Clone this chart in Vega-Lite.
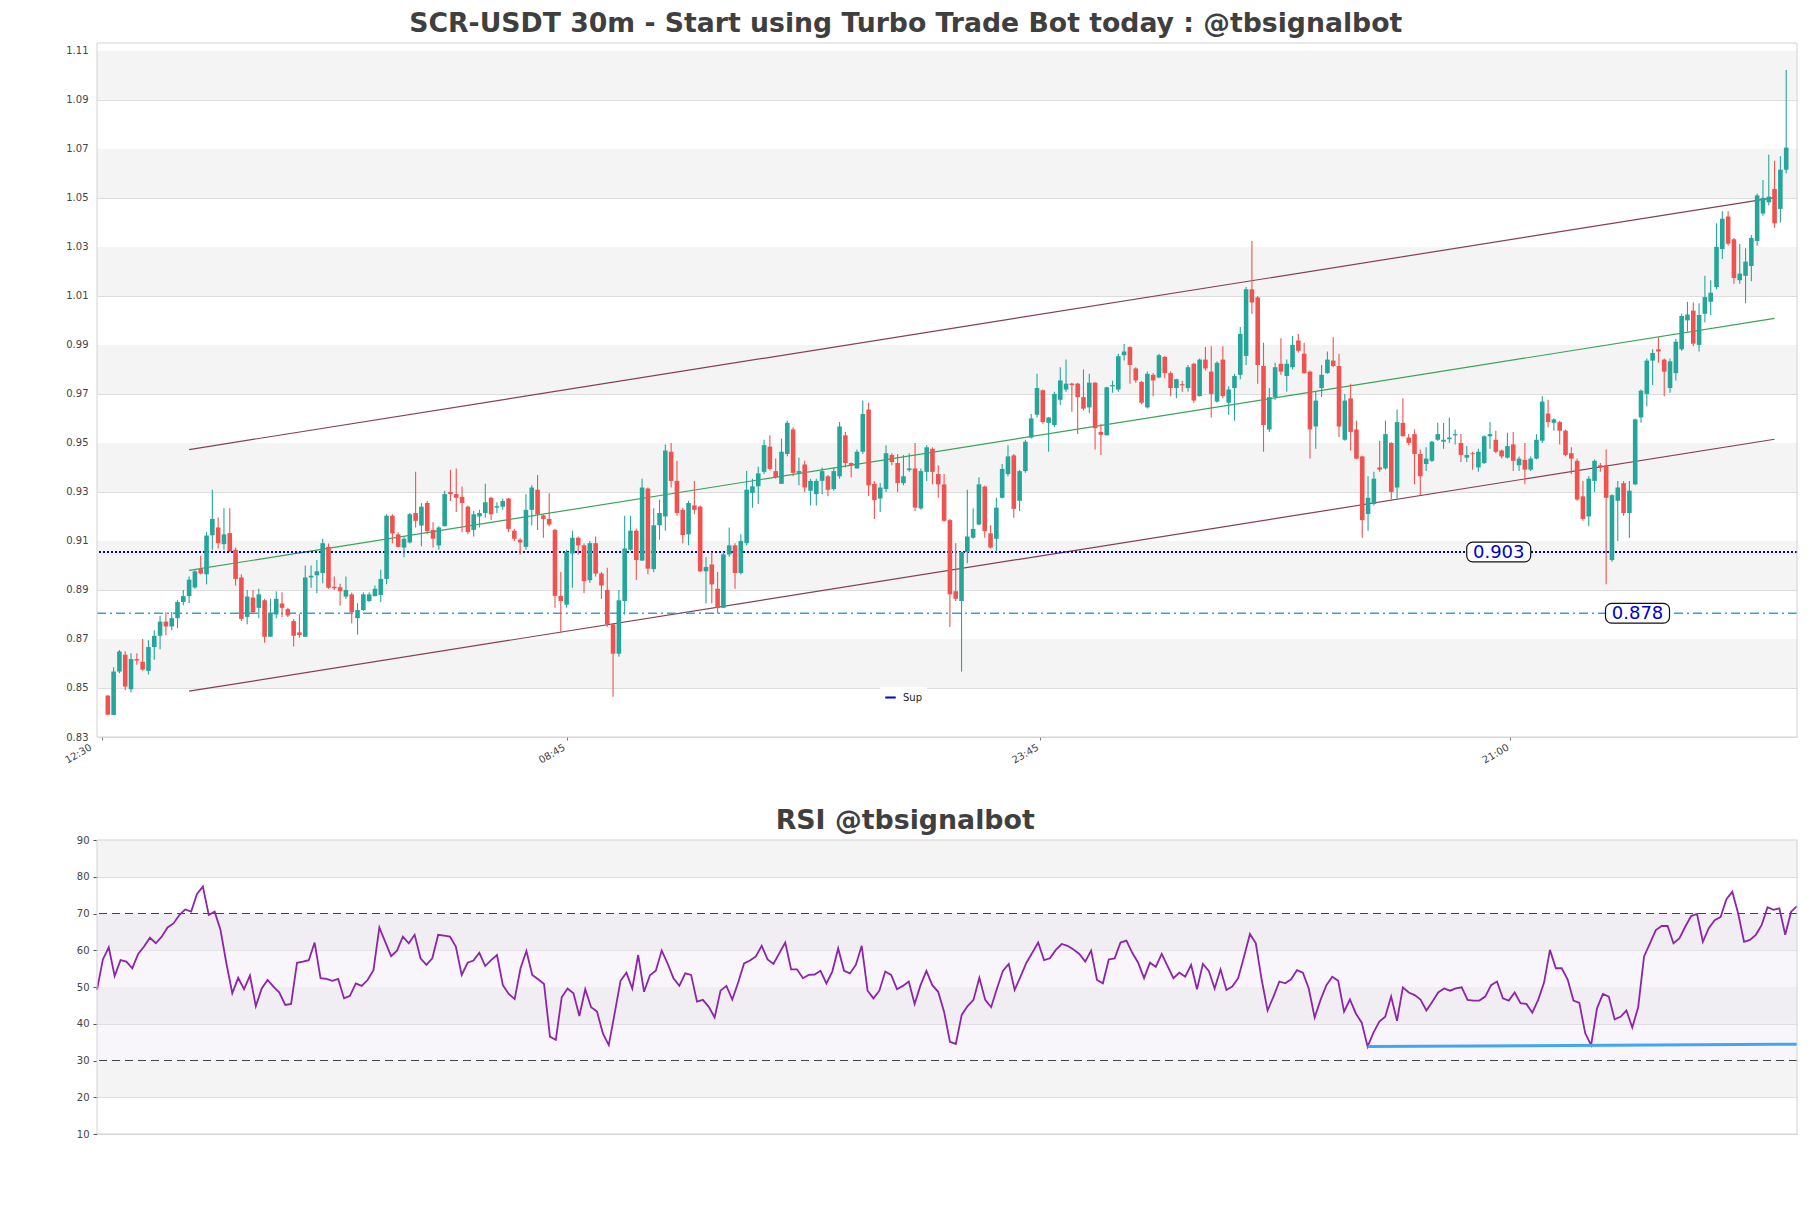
{
"$schema":"https://vega.github.io/schema/vega-lite/v6.json",
"width":1700,"height":1091,
"autosize":{"type":"none"},
"padding":{"left":97,"top":43,"right":14,"bottom":74},
"background":"white",
"config":{"view":{"stroke":null},"font":"DejaVu Sans","axis":{"labelFont":"DejaVu Sans"}},
"datasets":{
"mb":[{"lo":0.85,"hi":0.87},{"lo":0.89,"hi":0.91},{"lo":0.93,"hi":0.95},{"lo":0.97,"hi":0.99},{"lo":1.01,"hi":1.03},{"lo":1.05,"hi":1.07},{"lo":1.09,"hi":1.11}],
"rb":[{"lo":20,"hi":30},{"lo":40,"hi":50},{"lo":60,"hi":70},{"lo":80,"hi":90}],
"ch":[{"k":"edge","g":"upper","i":15,"p":0.9473},{"k":"edge","g":"upper","i":288,"p":1.0501},{"k":"edge","g":"lower","i":15,"p":0.8487},{"k":"edge","g":"lower","i":288,"p":0.9515},{"k":"mid","g":"mid","i":15,"p":0.898},{"k":"mid","g":"mid","i":288,"p":1.0008}],
"lab":[{"i":240.5,"p":0.9055,"t":"0.903"},{"i":264.4,"p":0.8805,"t":"0.878"}],
"rs":[{"i":217,"r":33.8},{"i":290,"r":34.45}],
"k":[
{"i":1,"o":0.8469,"h":0.8470,"l":0.8391,"c":0.8391},
{"i":2,"o":0.8390,"h":0.8585,"l":0.8390,"c":0.8567},
{"i":3,"o":0.8567,"h":0.8655,"l":0.8560,"c":0.8649},
{"i":4,"o":0.8636,"h":0.8650,"l":0.8491,"c":0.8506},
{"i":5,"o":0.8495,"h":0.8642,"l":0.8482,"c":0.8618},
{"i":6,"o":0.8618,"h":0.8642,"l":0.8595,"c":0.8612},
{"i":7,"o":0.8607,"h":0.8700,"l":0.8570,"c":0.8575},
{"i":8,"o":0.8570,"h":0.8695,"l":0.8555,"c":0.8667},
{"i":9,"o":0.8667,"h":0.8736,"l":0.8615,"c":0.8713},
{"i":10,"o":0.8713,"h":0.8795,"l":0.8658,"c":0.8771},
{"i":11,"o":0.8771,"h":0.8809,"l":0.8715,"c":0.8751},
{"i":12,"o":0.8751,"h":0.8810,"l":0.8736,"c":0.8785},
{"i":13,"o":0.8785,"h":0.8860,"l":0.8745,"c":0.8851},
{"i":14,"o":0.8851,"h":0.8900,"l":0.8838,"c":0.8875},
{"i":15,"o":0.8875,"h":0.8955,"l":0.8847,"c":0.8942},
{"i":16,"o":0.8910,"h":0.8985,"l":0.8905,"c":0.8976},
{"i":17,"o":0.8985,"h":0.9040,"l":0.8963,"c":0.8967},
{"i":18,"o":0.8964,"h":0.9136,"l":0.8923,"c":0.9122},
{"i":19,"o":0.9123,"h":0.9309,"l":0.9064,"c":0.9190},
{"i":20,"o":0.9155,"h":0.9196,"l":0.9069,"c":0.9091},
{"i":21,"o":0.9087,"h":0.9233,"l":0.9064,"c":0.9127},
{"i":22,"o":0.9132,"h":0.9233,"l":0.9055,"c":0.9058},
{"i":23,"o":0.9064,"h":0.9073,"l":0.8918,"c":0.8945},
{"i":24,"o":0.8951,"h":0.8964,"l":0.8773,"c":0.8782},
{"i":25,"o":0.8790,"h":0.8900,"l":0.8760,"c":0.8873},
{"i":26,"o":0.8869,"h":0.8900,"l":0.8805,"c":0.8809},
{"i":27,"o":0.8827,"h":0.8905,"l":0.8785,"c":0.8882},
{"i":28,"o":0.8858,"h":0.8864,"l":0.8685,"c":0.8709},
{"i":29,"o":0.8709,"h":0.8864,"l":0.8709,"c":0.8805},
{"i":30,"o":0.8800,"h":0.8895,"l":0.8785,"c":0.8864},
{"i":31,"o":0.8845,"h":0.8891,"l":0.8790,"c":0.8827},
{"i":32,"o":0.8822,"h":0.8827,"l":0.8790,"c":0.8796},
{"i":33,"o":0.8773,"h":0.8782,"l":0.8669,"c":0.8713},
{"i":34,"o":0.8727,"h":0.8803,"l":0.8705,"c":0.8716},
{"i":35,"o":0.8709,"h":0.9000,"l":0.8709,"c":0.8951},
{"i":36,"o":0.8951,"h":0.9000,"l":0.8909,"c":0.8958},
{"i":37,"o":0.8960,"h":0.9022,"l":0.8887,"c":0.8976},
{"i":38,"o":0.8969,"h":0.9109,"l":0.8927,"c":0.9091},
{"i":39,"o":0.9076,"h":0.9090,"l":0.8905,"c":0.8909},
{"i":40,"o":0.8913,"h":0.8955,"l":0.8900,"c":0.8907},
{"i":41,"o":0.8911,"h":0.8925,"l":0.8836,"c":0.8895},
{"i":42,"o":0.8873,"h":0.8955,"l":0.8864,"c":0.8900},
{"i":43,"o":0.8882,"h":0.8890,"l":0.8764,"c":0.8809},
{"i":44,"o":0.8785,"h":0.8846,"l":0.8718,"c":0.8818},
{"i":45,"o":0.8818,"h":0.8891,"l":0.8815,"c":0.8882},
{"i":46,"o":0.8855,"h":0.8890,"l":0.8850,"c":0.8882},
{"i":47,"o":0.8875,"h":0.8918,"l":0.8873,"c":0.8905},
{"i":48,"o":0.8880,"h":0.8982,"l":0.8851,"c":0.8945},
{"i":49,"o":0.8945,"h":0.9209,"l":0.8923,"c":0.9203},
{"i":50,"o":0.9203,"h":0.9209,"l":0.9091,"c":0.9131},
{"i":51,"o":0.9127,"h":0.9136,"l":0.9073,"c":0.9076},
{"i":52,"o":0.9073,"h":0.9118,"l":0.9033,"c":0.9109},
{"i":53,"o":0.9094,"h":0.9214,"l":0.9090,"c":0.9209},
{"i":54,"o":0.9214,"h":0.9382,"l":0.9155,"c":0.9182},
{"i":55,"o":0.9163,"h":0.9255,"l":0.9078,"c":0.9240},
{"i":56,"o":0.9255,"h":0.9264,"l":0.9127,"c":0.9140},
{"i":57,"o":0.9145,"h":0.9176,"l":0.9073,"c":0.9109},
{"i":58,"o":0.9082,"h":0.9160,"l":0.9064,"c":0.9155},
{"i":59,"o":0.9160,"h":0.9305,"l":0.9160,"c":0.9291},
{"i":60,"o":0.9300,"h":0.9390,"l":0.9263,"c":0.9291},
{"i":61,"o":0.9291,"h":0.9396,"l":0.9218,"c":0.9276},
{"i":62,"o":0.9280,"h":0.9322,"l":0.9136,"c":0.9255},
{"i":63,"o":0.9240,"h":0.9245,"l":0.9127,"c":0.9136},
{"i":64,"o":0.9145,"h":0.9222,"l":0.9118,"c":0.9209},
{"i":65,"o":0.9200,"h":0.9227,"l":0.9155,"c":0.9214},
{"i":66,"o":0.9214,"h":0.9333,"l":0.9196,"c":0.9258},
{"i":67,"o":0.9276,"h":0.9280,"l":0.9185,"c":0.9209},
{"i":68,"o":0.9236,"h":0.9258,"l":0.9214,"c":0.9242},
{"i":69,"o":0.9240,"h":0.9273,"l":0.9227,"c":0.9263},
{"i":70,"o":0.9273,"h":0.9276,"l":0.9136,"c":0.9149},
{"i":71,"o":0.9142,"h":0.9150,"l":0.9100,"c":0.9109},
{"i":72,"o":0.9105,"h":0.9112,"l":0.9045,"c":0.9094},
{"i":73,"o":0.9076,"h":0.9291,"l":0.9064,"c":0.9227},
{"i":74,"o":0.9227,"h":0.9327,"l":0.9164,"c":0.9318},
{"i":75,"o":0.9309,"h":0.9369,"l":0.9145,"c":0.9209},
{"i":76,"o":0.9204,"h":0.9208,"l":0.9113,"c":0.9190},
{"i":77,"o":0.9190,"h":0.9295,"l":0.9160,"c":0.9167},
{"i":78,"o":0.9145,"h":0.9150,"l":0.8827,"c":0.8876},
{"i":79,"o":0.8876,"h":0.8973,"l":0.8727,"c":0.8855},
{"i":80,"o":0.8840,"h":0.9064,"l":0.8827,"c":0.9055},
{"i":81,"o":0.9049,"h":0.9142,"l":0.8909,"c":0.9113},
{"i":82,"o":0.9113,"h":0.9118,"l":0.9045,"c":0.9082},
{"i":83,"o":0.9082,"h":0.9090,"l":0.8887,"c":0.8936},
{"i":84,"o":0.8940,"h":0.9100,"l":0.8929,"c":0.9091},
{"i":85,"o":0.9091,"h":0.9118,"l":0.8955,"c":0.8967},
{"i":86,"o":0.8967,"h":0.8973,"l":0.8864,"c":0.8918},
{"i":87,"o":0.8900,"h":0.8991,"l":0.8750,"c":0.8760},
{"i":88,"o":0.8760,"h":0.8764,"l":0.8464,"c":0.8640},
{"i":89,"o":0.8640,"h":0.8900,"l":0.8627,"c":0.8858},
{"i":90,"o":0.8855,"h":0.9203,"l":0.8800,"c":0.9069},
{"i":91,"o":0.9064,"h":0.9203,"l":0.9060,"c":0.9142},
{"i":92,"o":0.9142,"h":0.9150,"l":0.8941,"c":0.9022},
{"i":93,"o":0.9020,"h":0.9354,"l":0.9018,"c":0.9318},
{"i":94,"o":0.9314,"h":0.9318,"l":0.8964,"c":0.8987},
{"i":95,"o":0.8985,"h":0.9233,"l":0.8973,"c":0.9164},
{"i":96,"o":0.9164,"h":0.9269,"l":0.9105,"c":0.9214},
{"i":97,"o":0.9200,"h":0.9494,"l":0.9142,"c":0.9469},
{"i":98,"o":0.9464,"h":0.9500,"l":0.9318,"c":0.9345},
{"i":99,"o":0.9345,"h":0.9427,"l":0.9203,"c":0.9214},
{"i":100,"o":0.9227,"h":0.9236,"l":0.9091,"c":0.9124},
{"i":101,"o":0.9127,"h":0.9264,"l":0.9082,"c":0.9255},
{"i":102,"o":0.9245,"h":0.9345,"l":0.9209,"c":0.9227},
{"i":103,"o":0.9240,"h":0.9245,"l":0.8973,"c":0.8976},
{"i":104,"o":0.8976,"h":0.9033,"l":0.8845,"c":0.8994},
{"i":105,"o":0.9004,"h":0.9055,"l":0.8845,"c":0.8923},
{"i":106,"o":0.8905,"h":0.8973,"l":0.8804,"c":0.8827},
{"i":107,"o":0.8827,"h":0.9055,"l":0.8827,"c":0.9045},
{"i":108,"o":0.9045,"h":0.9155,"l":0.9036,"c":0.9082},
{"i":109,"o":0.9082,"h":0.9091,"l":0.8905,"c":0.8969},
{"i":110,"o":0.8969,"h":0.9127,"l":0.8964,"c":0.9100},
{"i":111,"o":0.9091,"h":0.9385,"l":0.9082,"c":0.9309},
{"i":112,"o":0.9296,"h":0.9354,"l":0.9236,"c":0.9323},
{"i":113,"o":0.9323,"h":0.9403,"l":0.9251,"c":0.9376},
{"i":114,"o":0.9382,"h":0.9513,"l":0.9373,"c":0.9491},
{"i":115,"o":0.9485,"h":0.9531,"l":0.9387,"c":0.9394},
{"i":116,"o":0.9385,"h":0.9436,"l":0.9354,"c":0.9360},
{"i":117,"o":0.9333,"h":0.9518,"l":0.9333,"c":0.9464},
{"i":118,"o":0.9455,"h":0.9591,"l":0.9446,"c":0.9582},
{"i":119,"o":0.9555,"h":0.9564,"l":0.9364,"c":0.9378},
{"i":120,"o":0.9378,"h":0.9440,"l":0.9327,"c":0.9385},
{"i":121,"o":0.9412,"h":0.9427,"l":0.9300,"c":0.9318},
{"i":122,"o":0.9305,"h":0.9354,"l":0.9245,"c":0.9345},
{"i":123,"o":0.9291,"h":0.9354,"l":0.9245,"c":0.9345},
{"i":124,"o":0.9345,"h":0.9400,"l":0.9291,"c":0.9385},
{"i":125,"o":0.9364,"h":0.9369,"l":0.9282,"c":0.9309},
{"i":126,"o":0.9312,"h":0.9400,"l":0.9305,"c":0.9385},
{"i":127,"o":0.9364,"h":0.9585,"l":0.9354,"c":0.9567},
{"i":128,"o":0.9531,"h":0.9545,"l":0.9400,"c":0.9418},
{"i":129,"o":0.9418,"h":0.9420,"l":0.9360,"c":0.9409},
{"i":130,"o":0.9396,"h":0.9473,"l":0.9396,"c":0.9464},
{"i":131,"o":0.9464,"h":0.9673,"l":0.9455,"c":0.9618},
{"i":132,"o":0.9636,"h":0.9664,"l":0.9282,"c":0.9327},
{"i":133,"o":0.9333,"h":0.9345,"l":0.9190,"c":0.9267},
{"i":134,"o":0.9273,"h":0.9336,"l":0.9218,"c":0.9318},
{"i":135,"o":0.9312,"h":0.9491,"l":0.9300,"c":0.9458},
{"i":136,"o":0.9451,"h":0.9458,"l":0.9409,"c":0.9422},
{"i":137,"o":0.9418,"h":0.9455,"l":0.9300,"c":0.9336},
{"i":138,"o":0.9336,"h":0.9451,"l":0.9327,"c":0.9364},
{"i":139,"o":0.9389,"h":0.9458,"l":0.9382,"c":0.9396},
{"i":140,"o":0.9396,"h":0.9500,"l":0.9222,"c":0.9236},
{"i":141,"o":0.9233,"h":0.9396,"l":0.9227,"c":0.9385},
{"i":142,"o":0.9382,"h":0.9491,"l":0.9345,"c":0.9482},
{"i":143,"o":0.9476,"h":0.9482,"l":0.9331,"c":0.9382},
{"i":144,"o":0.9373,"h":0.9409,"l":0.9276,"c":0.9331},
{"i":145,"o":0.9331,"h":0.9373,"l":0.9178,"c":0.9182},
{"i":146,"o":0.9185,"h":0.9190,"l":0.8749,"c":0.8882},
{"i":147,"o":0.8895,"h":0.9091,"l":0.8855,"c":0.8864},
{"i":148,"o":0.8855,"h":0.9055,"l":0.8567,"c":0.9055},
{"i":149,"o":0.9055,"h":0.9309,"l":0.9009,"c":0.9118},
{"i":150,"o":0.9113,"h":0.9233,"l":0.9109,"c":0.9149},
{"i":151,"o":0.9167,"h":0.9360,"l":0.9164,"c":0.9331},
{"i":152,"o":0.9322,"h":0.9325,"l":0.9113,"c":0.9140},
{"i":153,"o":0.9131,"h":0.9164,"l":0.9069,"c":0.9073},
{"i":154,"o":0.9109,"h":0.9276,"l":0.9055,"c":0.9236},
{"i":155,"o":0.9276,"h":0.9414,"l":0.9273,"c":0.9394},
{"i":156,"o":0.9373,"h":0.9491,"l":0.9364,"c":0.9445},
{"i":157,"o":0.9449,"h":0.9455,"l":0.9195,"c":0.9231},
{"i":158,"o":0.9264,"h":0.9391,"l":0.9222,"c":0.9385},
{"i":159,"o":0.9385,"h":0.9513,"l":0.9378,"c":0.9505},
{"i":160,"o":0.9522,"h":0.9618,"l":0.9518,"c":0.9600},
{"i":161,"o":0.9615,"h":0.9782,"l":0.9604,"c":0.9724},
{"i":162,"o":0.9715,"h":0.9718,"l":0.9578,"c":0.9585},
{"i":163,"o":0.9582,"h":0.9606,"l":0.9464,"c":0.9604},
{"i":164,"o":0.9573,"h":0.9709,"l":0.9564,"c":0.9700},
{"i":165,"o":0.9676,"h":0.9809,"l":0.9655,"c":0.9755},
{"i":166,"o":0.9718,"h":0.9840,"l":0.9709,"c":0.9742},
{"i":167,"o":0.9742,"h":0.9746,"l":0.9627,"c":0.9736},
{"i":168,"o":0.9742,"h":0.9746,"l":0.9536,"c":0.9687},
{"i":169,"o":0.9687,"h":0.9800,"l":0.9633,"c":0.9640},
{"i":170,"o":0.9645,"h":0.9782,"l":0.9622,"c":0.9746},
{"i":171,"o":0.9746,"h":0.9748,"l":0.9473,"c":0.9560},
{"i":172,"o":0.9545,"h":0.9578,"l":0.9451,"c":0.9533},
{"i":173,"o":0.9531,"h":0.9729,"l":0.9531,"c":0.9727},
{"i":174,"o":0.9731,"h":0.9754,"l":0.9705,"c":0.9736},
{"i":175,"o":0.9718,"h":0.9864,"l":0.9709,"c":0.9854},
{"i":176,"o":0.9858,"h":0.9904,"l":0.9836,"c":0.9873},
{"i":177,"o":0.9891,"h":0.9895,"l":0.9742,"c":0.9818},
{"i":178,"o":0.9804,"h":0.9809,"l":0.9746,"c":0.9755},
{"i":179,"o":0.9749,"h":0.9754,"l":0.9658,"c":0.9664},
{"i":180,"o":0.9645,"h":0.9791,"l":0.9640,"c":0.9782},
{"i":181,"o":0.9778,"h":0.9785,"l":0.9691,"c":0.9755},
{"i":182,"o":0.9767,"h":0.9864,"l":0.9764,"c":0.9858},
{"i":183,"o":0.9851,"h":0.9855,"l":0.9764,"c":0.9785},
{"i":184,"o":0.9785,"h":0.9791,"l":0.9691,"c":0.9724},
{"i":185,"o":0.9724,"h":0.9762,"l":0.9682,"c":0.9760},
{"i":186,"o":0.9740,"h":0.9754,"l":0.9709,"c":0.9735},
{"i":187,"o":0.9724,"h":0.9818,"l":0.9709,"c":0.9809},
{"i":188,"o":0.9823,"h":0.9827,"l":0.9664,"c":0.9673},
{"i":189,"o":0.9691,"h":0.9845,"l":0.9689,"c":0.9840},
{"i":190,"o":0.9840,"h":0.9891,"l":0.9796,"c":0.9804},
{"i":191,"o":0.9791,"h":0.9895,"l":0.9604,"c":0.9700},
{"i":192,"o":0.9669,"h":0.9833,"l":0.9664,"c":0.9827},
{"i":193,"o":0.9840,"h":0.9895,"l":0.9682,"c":0.9691},
{"i":194,"o":0.9664,"h":0.9731,"l":0.9615,"c":0.9718},
{"i":195,"o":0.9724,"h":0.9782,"l":0.9591,"c":0.9773},
{"i":196,"o":0.9778,"h":0.9973,"l":0.9760,"c":0.9945},
{"i":197,"o":0.9855,"h":1.0136,"l":0.9818,"c":1.0127},
{"i":198,"o":1.0127,"h":1.0324,"l":1.0027,"c":1.0073},
{"i":199,"o":1.0094,"h":1.0100,"l":0.9742,"c":0.9818},
{"i":200,"o":0.9814,"h":0.9909,"l":0.9464,"c":0.9573},
{"i":201,"o":0.9555,"h":0.9724,"l":0.9545,"c":0.9687},
{"i":202,"o":0.9687,"h":0.9827,"l":0.9676,"c":0.9809},
{"i":203,"o":0.9823,"h":0.9927,"l":0.9778,"c":0.9791},
{"i":204,"o":0.9773,"h":0.9840,"l":0.9709,"c":0.9823},
{"i":205,"o":0.9809,"h":0.9936,"l":0.9800,"c":0.9900},
{"i":206,"o":0.9918,"h":0.9945,"l":0.9869,"c":0.9876},
{"i":207,"o":0.9864,"h":0.9909,"l":0.9782,"c":0.9785},
{"i":208,"o":0.9791,"h":0.9796,"l":0.9436,"c":0.9555},
{"i":209,"o":0.9567,"h":0.9709,"l":0.9476,"c":0.9673},
{"i":210,"o":0.9724,"h":0.9818,"l":0.9687,"c":0.9778},
{"i":211,"o":0.9785,"h":0.9873,"l":0.9782,"c":0.9840},
{"i":212,"o":0.9836,"h":0.9931,"l":0.9809,"c":0.9814},
{"i":213,"o":0.9814,"h":0.9864,"l":0.9524,"c":0.9567},
{"i":214,"o":0.9513,"h":0.9700,"l":0.9509,"c":0.9673},
{"i":215,"o":0.9682,"h":0.9742,"l":0.9469,"c":0.9545},
{"i":216,"o":0.9555,"h":0.9591,"l":0.9433,"c":0.9436},
{"i":217,"o":0.9445,"h":0.9448,"l":0.9113,"c":0.9185},
{"i":218,"o":0.9210,"h":0.9364,"l":0.9142,"c":0.9276},
{"i":219,"o":0.9251,"h":0.9382,"l":0.9245,"c":0.9354},
{"i":220,"o":0.9400,"h":0.9509,"l":0.9382,"c":0.9391},
{"i":221,"o":0.9396,"h":0.9591,"l":0.9391,"c":0.9536},
{"i":222,"o":0.9500,"h":0.9503,"l":0.9269,"c":0.9300},
{"i":223,"o":0.9318,"h":0.9636,"l":0.9273,"c":0.9585},
{"i":224,"o":0.9582,"h":0.9682,"l":0.9527,"c":0.9527},
{"i":225,"o":0.9522,"h":0.9536,"l":0.9491,"c":0.9500},
{"i":226,"o":0.9536,"h":0.9555,"l":0.9331,"c":0.9455},
{"i":227,"o":0.9455,"h":0.9473,"l":0.9287,"c":0.9364},
{"i":228,"o":0.9414,"h":0.9482,"l":0.9385,"c":0.9436},
{"i":229,"o":0.9427,"h":0.9509,"l":0.9422,"c":0.9505},
{"i":230,"o":0.9513,"h":0.9582,"l":0.9509,"c":0.9536},
{"i":231,"o":0.9505,"h":0.9582,"l":0.9476,"c":0.9513},
{"i":232,"o":0.9515,"h":0.9604,"l":0.9500,"c":0.9522},
{"i":233,"o":0.9531,"h":0.9555,"l":0.9494,"c":0.9536},
{"i":234,"o":0.9500,"h":0.9536,"l":0.9422,"c":0.9451},
{"i":235,"o":0.9440,"h":0.9487,"l":0.9422,"c":0.9451},
{"i":236,"o":0.9458,"h":0.9464,"l":0.9391,"c":0.9454},
{"i":237,"o":0.9400,"h":0.9476,"l":0.9382,"c":0.9464},
{"i":238,"o":0.9418,"h":0.9531,"l":0.9414,"c":0.9527},
{"i":239,"o":0.9527,"h":0.9585,"l":0.9476,"c":0.9536},
{"i":240,"o":0.9513,"h":0.9550,"l":0.9458,"c":0.9464},
{"i":241,"o":0.9469,"h":0.9473,"l":0.9436,"c":0.9445},
{"i":242,"o":0.9440,"h":0.9542,"l":0.9436,"c":0.9487},
{"i":243,"o":0.9494,"h":0.9545,"l":0.9385,"c":0.9427},
{"i":244,"o":0.9409,"h":0.9445,"l":0.9385,"c":0.9436},
{"i":245,"o":0.9431,"h":0.9500,"l":0.9331,"c":0.9391},
{"i":246,"o":0.9391,"h":0.9445,"l":0.9385,"c":0.9436},
{"i":247,"o":0.9436,"h":0.9536,"l":0.9433,"c":0.9513},
{"i":248,"o":0.9509,"h":0.9691,"l":0.9500,"c":0.9669},
{"i":249,"o":0.9620,"h":0.9676,"l":0.9564,"c":0.9585},
{"i":250,"o":0.9582,"h":0.9600,"l":0.9550,"c":0.9596},
{"i":251,"o":0.9585,"h":0.9591,"l":0.9494,"c":0.9550},
{"i":252,"o":0.9550,"h":0.9555,"l":0.9445,"c":0.9451},
{"i":253,"o":0.9458,"h":0.9482,"l":0.9373,"c":0.9436},
{"i":254,"o":0.9427,"h":0.9436,"l":0.9264,"c":0.9269},
{"i":255,"o":0.9282,"h":0.9345,"l":0.9182,"c":0.9190},
{"i":256,"o":0.9200,"h":0.9364,"l":0.9160,"c":0.9354},
{"i":257,"o":0.9345,"h":0.9433,"l":0.9300,"c":0.9427},
{"i":258,"o":0.9409,"h":0.9418,"l":0.9382,"c":0.9400},
{"i":259,"o":0.9409,"h":0.9473,"l":0.8923,"c":0.9276},
{"i":260,"o":0.9022,"h":0.9291,"l":0.9015,"c":0.9287},
{"i":261,"o":0.9264,"h":0.9345,"l":0.9100,"c":0.9318},
{"i":262,"o":0.9336,"h":0.9345,"l":0.9203,"c":0.9214},
{"i":263,"o":0.9214,"h":0.9345,"l":0.9113,"c":0.9305},
{"i":264,"o":0.9331,"h":0.9600,"l":0.9327,"c":0.9596},
{"i":265,"o":0.9604,"h":0.9718,"l":0.9582,"c":0.9713},
{"i":266,"o":0.9700,"h":0.9845,"l":0.9650,"c":0.9836},
{"i":267,"o":0.9836,"h":0.9882,"l":0.9736,"c":0.9867},
{"i":268,"o":0.9882,"h":0.9931,"l":0.9827,"c":0.9873},
{"i":269,"o":0.9840,"h":0.9845,"l":0.9691,"c":0.9791},
{"i":270,"o":0.9724,"h":0.9845,"l":0.9705,"c":0.9833},
{"i":271,"o":0.9785,"h":0.9924,"l":0.9755,"c":0.9913},
{"i":272,"o":0.9882,"h":1.0027,"l":0.9876,"c":1.0018},
{"i":273,"o":1.0000,"h":1.0076,"l":0.9955,"c":1.0024},
{"i":274,"o":1.0040,"h":1.0073,"l":0.9895,"c":0.9905},
{"i":275,"o":0.9900,"h":1.0070,"l":0.9873,"c":1.0022},
{"i":276,"o":1.0027,"h":1.0182,"l":0.9991,"c":1.0095},
{"i":277,"o":1.0076,"h":1.0164,"l":1.0022,"c":1.0113},
{"i":278,"o":1.0136,"h":1.0396,"l":1.0127,"c":1.0300},
{"i":279,"o":1.0291,"h":1.0445,"l":1.0251,"c":1.0415},
{"i":280,"o":1.0424,"h":1.0445,"l":1.0305,"c":1.0313},
{"i":281,"o":1.0331,"h":1.0336,"l":1.0150,"c":1.0173},
{"i":282,"o":1.0164,"h":1.0313,"l":1.0150,"c":1.0191},
{"i":283,"o":1.0182,"h":1.0294,"l":1.0070,"c":1.0240},
{"i":284,"o":1.0222,"h":1.0349,"l":1.0160,"c":1.0336},
{"i":285,"o":1.0324,"h":1.0518,"l":1.0305,"c":1.0510},
{"i":286,"o":1.0436,"h":1.0573,"l":1.0427,"c":1.0500},
{"i":287,"o":1.0482,"h":1.0676,"l":1.0469,"c":1.0505},
{"i":288,"o":1.0536,"h":1.0651,"l":1.0378,"c":1.0396},
{"i":289,"o":1.0455,"h":1.0670,"l":1.0400,"c":1.0615},
{"i":290,"o":1.0615,"h":1.1022,"l":1.0600,"c":1.0705}
],
"r":[
{"i":1,"r":49.2},{"i":2,"r":57.5},{"i":3,"r":60.8},{"i":4,"r":53},{"i":5,"r":57.3},{"i":6,"r":56.9},{"i":7,"r":55.1},{"i":8,"r":59},{"i":9,"r":61},{"i":10,"r":63.4},
{"i":11,"r":61.9},{"i":12,"r":63.7},{"i":13,"r":66.2},{"i":14,"r":67.3},{"i":15,"r":69.6},{"i":16,"r":71.1},{"i":17,"r":70.5},{"i":18,"r":75.3},{"i":19,"r":77.3},{"i":20,"r":69.6},
{"i":21,"r":70.5},{"i":22,"r":65.5},{"i":23,"r":56.4},{"i":24,"r":48.3},{"i":25,"r":52.5},{"i":26,"r":49.4},{"i":27,"r":53.1},{"i":28,"r":44.8},{"i":29,"r":49.6},{"i":30,"r":51.9},
{"i":31,"r":50.1},{"i":32,"r":48.5},{"i":33,"r":45.1},{"i":34,"r":45.4},{"i":35,"r":56.6},{"i":36,"r":56.9},{"i":37,"r":57.3},{"i":38,"r":62.1},{"i":39,"r":52.4},{"i":40,"r":52.2},
{"i":41,"r":51.7},{"i":42,"r":52.2},{"i":43,"r":46.9},{"i":44,"r":47.6},{"i":45,"r":51},{"i":46,"r":50.3},{"i":47,"r":51.9},{"i":48,"r":54.6},{"i":49,"r":66.2},{"i":50,"r":62.3},
{"i":51,"r":58.4},{"i":52,"r":59.9},{"i":53,"r":63.7},{"i":54,"r":61.9},{"i":55,"r":64.2},{"i":56,"r":57.8},{"i":57,"r":56},{"i":58,"r":57.8},{"i":59,"r":64.2},{"i":60,"r":64},
{"i":61,"r":63.7},{"i":62,"r":61},{"i":63,"r":53.3},{"i":64,"r":56.6},{"i":65,"r":57.2},{"i":66,"r":59.3},{"i":67,"r":55.7},{"i":68,"r":57.3},{"i":69,"r":58.7},{"i":70,"r":50.5},
{"i":71,"r":48.1},{"i":72,"r":46.7},{"i":73,"r":55.1},{"i":74,"r":59.8},{"i":75,"r":53.3},{"i":76,"r":52.1},{"i":77,"r":50.8},{"i":78,"r":36.5},{"i":79,"r":35.6},{"i":80,"r":47.2},
{"i":81,"r":49.6},{"i":82,"r":48.3},{"i":83,"r":42.1},{"i":84,"r":49.4},{"i":85,"r":44.5},{"i":86,"r":43.3},{"i":87,"r":37.4},{"i":88,"r":34.2},{"i":89,"r":42.8},{"i":90,"r":51.7},
{"i":91,"r":53.9},{"i":92,"r":49.6},{"i":93,"r":58.7},{"i":94,"r":48.7},{"i":95,"r":53.2},{"i":96,"r":54.4},{"i":97,"r":59.9},{"i":98,"r":56.4},{"i":99,"r":52.4},{"i":100,"r":50.3},
{"i":101,"r":53.7},{"i":102,"r":53.3},{"i":103,"r":46},{"i":104,"r":46.5},{"i":105,"r":44.6},{"i":106,"r":41.7},{"i":107,"r":49},{"i":108,"r":50.3},{"i":109,"r":46.6},{"i":110,"r":51.2},
{"i":111,"r":56.4},{"i":112,"r":57.2},{"i":113,"r":58.3},{"i":114,"r":61.2},{"i":115,"r":57.5},{"i":116,"r":56.3},{"i":117,"r":59.2},{"i":118,"r":62.1},{"i":119,"r":54.8},{"i":120,"r":54.8},
{"i":121,"r":52.4},{"i":122,"r":53.3},{"i":123,"r":53.4},{"i":124,"r":54.4},{"i":125,"r":51},{"i":126,"r":54.2},{"i":127,"r":60.5},{"i":128,"r":54.4},{"i":129,"r":53.7},{"i":130,"r":56},
{"i":131,"r":61.2},{"i":132,"r":49},{"i":133,"r":46.9},{"i":134,"r":49},{"i":135,"r":54.2},{"i":136,"r":53.3},{"i":137,"r":49.4},{"i":138,"r":50.3},{"i":139,"r":51.5},{"i":140,"r":45.4},
{"i":141,"r":50.5},{"i":142,"r":54.4},{"i":143,"r":50.5},{"i":144,"r":48.7},{"i":145,"r":43.3},{"i":146,"r":35.1},{"i":147,"r":34.5},{"i":148,"r":42.4},{"i":149,"r":44.8},{"i":150,"r":46.5},
{"i":151,"r":52.5},{"i":152,"r":46.5},{"i":153,"r":44.5},{"i":154,"r":49.6},{"i":155,"r":54.4},{"i":156,"r":56.3},{"i":157,"r":49.2},{"i":158,"r":52.8},{"i":159,"r":56.6},{"i":160,"r":59.3},
{"i":161,"r":62.1},{"i":162,"r":57.3},{"i":163,"r":57.8},{"i":164,"r":60.1},{"i":165,"r":61.7},{"i":166,"r":61.2},{"i":167,"r":60.2},{"i":168,"r":59},{"i":169,"r":56.9},{"i":170,"r":59.9},
{"i":171,"r":51.9},{"i":172,"r":51},{"i":173,"r":57.5},{"i":174,"r":57.8},{"i":175,"r":62.1},{"i":176,"r":62.6},{"i":177,"r":59.3},{"i":178,"r":56.6},{"i":179,"r":52.4},{"i":180,"r":56.6},
{"i":181,"r":55.5},{"i":182,"r":59},{"i":183,"r":55.7},{"i":184,"r":52.4},{"i":185,"r":53.9},{"i":186,"r":52.8},{"i":187,"r":56},{"i":188,"r":49.4},{"i":189,"r":56.3},{"i":190,"r":54.4},
{"i":191,"r":49.6},{"i":192,"r":54.8},{"i":193,"r":49.2},{"i":194,"r":50.1},{"i":195,"r":52.4},{"i":196,"r":58.3},{"i":197,"r":64.4},{"i":198,"r":61.9},{"i":199,"r":51.9},{"i":200,"r":43.6},
{"i":201,"r":47.4},{"i":202,"r":51.5},{"i":203,"r":51},{"i":204,"r":52.1},{"i":205,"r":54.6},{"i":206,"r":53.9},{"i":207,"r":49.6},{"i":208,"r":41.7},{"i":209,"r":46.5},{"i":210,"r":50.5},
{"i":211,"r":52.8},{"i":212,"r":51.7},{"i":213,"r":43.3},{"i":214,"r":46.6},{"i":215,"r":42.8},{"i":216,"r":40.3},{"i":217,"r":33.8},{"i":218,"r":37.6},{"i":219,"r":40.6},{"i":220,"r":41.9},
{"i":221,"r":47.4},{"i":222,"r":40.8},{"i":223,"r":49.9},{"i":224,"r":48.5},{"i":225,"r":47.8},{"i":226,"r":46.6},{"i":227,"r":43.6},{"i":228,"r":46},{"i":229,"r":48.5},{"i":230,"r":49.6},
{"i":231,"r":49},{"i":232,"r":49.6},{"i":233,"r":49.9},{"i":234,"r":46.5},{"i":235,"r":46.3},{"i":236,"r":46.3},{"i":237,"r":47.4},{"i":238,"r":50.5},{"i":239,"r":51.5},{"i":240,"r":46.9},
{"i":241,"r":46.3},{"i":242,"r":48.5},{"i":243,"r":45.6},{"i":244,"r":45.4},{"i":245,"r":43},{"i":246,"r":46.5},{"i":247,"r":51.2},{"i":248,"r":60.1},{"i":249,"r":55.1},{"i":250,"r":55.1},
{"i":251,"r":52.1},{"i":252,"r":46.3},{"i":253,"r":45.7},{"i":254,"r":37.4},{"i":255,"r":34.2},{"i":256,"r":44.2},{"i":257,"r":48.1},{"i":258,"r":47.4},{"i":259,"r":41.2},{"i":260,"r":41.9},
{"i":261,"r":43.6},{"i":262,"r":39},{"i":263,"r":44.5},{"i":264,"r":58.3},{"i":265,"r":61.9},{"i":266,"r":65.5},{"i":267,"r":66.6},{"i":268,"r":66.6},{"i":269,"r":61.9},{"i":270,"r":63.2},
{"i":271,"r":66.4},{"i":272,"r":69.3},{"i":273,"r":69.9},{"i":274,"r":62.3},{"i":275,"r":66},{"i":276,"r":68.2},{"i":277,"r":69},{"i":278,"r":73.9},{"i":279,"r":75.9},{"i":280,"r":70},
{"i":281,"r":62.3},{"i":282,"r":62.8},{"i":283,"r":64.2},{"i":284,"r":66.9},{"i":285,"r":71.7},{"i":286,"r":71},{"i":287,"r":71.4},{"i":288,"r":64.2},{"i":289,"r":70.5},{"i":290,"r":72}
]
},
"layer":[
{
"layer":[
{"data":{"name":"mb"},"mark":{"type":"rect","fill":"#f4f4f4"},
 "encoding":{"y":{"field":"lo","type":"quantitative","scale":{"domain":[0.83,1.1132],"range":[694,0],"nice":false,"zero":false},
   "axis":{"values":[0.83,0.85,0.87,0.89,0.91,0.93,0.95,0.97,0.99,1.01,1.03,1.05,1.07,1.09,1.11],"format":".2f","grid":true,"gridColor":"#dddddd","gridWidth":1,"domain":false,"ticks":false,"labelPadding":9,"labelFontSize":10,"labelColor":"#444444","title":null,"orient":"left"}},
  "y2":{"field":"hi"}}},
{"data":{"name":"ch"},"transform":[{"filter":"datum.k=='edge'"}],"mark":{"type":"line","stroke":"#86404f","strokeWidth":1.2},
 "encoding":{"x":{"field":"i","type":"quantitative","scale":{"domain":[0,291],"range":[0,1700],"nice":false,"zero":false}},"y":{"field":"p","type":"quantitative"},"detail":{"field":"g"}}},
{"data":{"name":"ch"},"transform":[{"filter":"datum.k=='mid'"}],"mark":{"type":"line","stroke":"#3aa35a","strokeWidth":1.2},
 "encoding":{"x":{"field":"i","type":"quantitative"},"y":{"field":"p","type":"quantitative"}}},
{"data":{"values":[{"s":"Sup"}]},"mark":{"type":"rule","strokeWidth":2.2,"strokeDash":[2,2]},
 "encoding":{"y":{"datum":0.9055,"type":"quantitative"},
  "color":{"datum":"Sup","type":"nominal","scale":{"domain":["Sup"],"range":["#0000cc"]},
   "legend":{"orient":"none","legendX":783,"legendY":644,"title":null,"symbolType":"stroke","symbolStrokeWidth":2,"symbolSize":110,"symbolDash":[1,0],"labelFontSize":10,"labelColor":"#222222","fillColor":"white","padding":4,"labelOffset":6}}}},
{"data":{"values":[{"s":"r"}]},"mark":{"type":"rule","stroke":"#3aa0d2","strokeWidth":1.3,"strokeDash":[9,4,2,4]},
 "encoding":{"y":{"datum":0.8805,"type":"quantitative"}}},
{"data":{"name":"k"},"mark":{"type":"rule","strokeWidth":1.1},
 "encoding":{"x":{"field":"i","type":"quantitative",
   "axis":{"values":[0,80,161.5,242.5],"labelExpr":"datum.value==0?'12:30':datum.value==80?'08:45':datum.value==161.5?'23:45':'21:00'","offset":-397,"grid":false,"domain":false,"ticks":true,"tickSize":3,"tickColor":"#777777","labelAngle":-30,"labelAlign":"right","labelBaseline":"top","labelFontSize":10,"labelColor":"#444444","labelPadding":2,"labelOffset":{"condition":{"test":"datum.value==0","value":-14},"value":-5},"title":null,"orient":"bottom"}},
  "y":{"field":"l","type":"quantitative"},"y2":{"field":"h"},
  "color":{"condition":{"test":"datum.c>=datum.o","value":"#26a69a"},"value":"#ef5350"}}},
{"data":{"name":"k"},"mark":{"type":"bar","width":4.6},
 "encoding":{"x":{"field":"i","type":"quantitative"},"y":{"field":"o","type":"quantitative"},"y2":{"field":"c"},
  "color":{"condition":{"test":"datum.c>=datum.o","value":"#26a69a"},"value":"#ef5350"}}},
{"data":{"name":"lab"},"mark":{"type":"point","shape":"M-0.81,-0.31L0.81,-0.31A0.19,0.19,0,0,1,1,-0.12L1,0.12A0.19,0.19,0,0,1,0.81,0.31L-0.81,0.31A0.19,0.19,0,0,1,-1,0.12L-1,-0.12A0.19,0.19,0,0,1,-0.81,-0.31Z","size":4096,"filled":true,"fill":"white","stroke":"#111111","strokeWidth":1.2,"opacity":1},
 "encoding":{"x":{"field":"i","type":"quantitative"},"y":{"field":"p","type":"quantitative"}}},
{"data":{"name":"lab"},"mark":{"type":"text","fontSize":18,"font":"DejaVu Sans","fill":"#0000cc","align":"center","baseline":"middle","dy":1},
 "encoding":{"x":{"field":"i","type":"quantitative"},"y":{"field":"p","type":"quantitative"},"text":{"field":"t"}}},
{"data":{"values":[{"t":"SCR-USDT 30m - Start using Turbo Trade Bot today : @tbsignalbot"}]},"mark":{"type":"text","fontSize":26.7,"fontWeight":"bold","font":"DejaVu Sans","fill":"#3f3f3f","align":"center","baseline":"alphabetic"},
 "encoding":{"x":{"datum":138.4,"type":"quantitative"},"y":{"datum":1.1177,"type":"quantitative"},"text":{"field":"t"}}},
{"data":{"values":[{"s":"b"}]},"mark":{"type":"rect","fill":null,"fillOpacity":0,"stroke":"#d2d2d2","strokeWidth":1},
 "encoding":{"y":{"datum":0.83,"type":"quantitative"},"y2":{"datum":1.1132}}}
]
},
{
"layer":[
{"data":{"name":"rb"},"mark":{"type":"rect","fill":"#f4f4f4"},
 "encoding":{"y":{"field":"lo","type":"quantitative","scale":{"domain":[10,90],"range":[1091,797],"nice":false,"zero":false},
   "axis":{"values":[10,20,30,40,50,60,70,80,90],"grid":true,"gridColor":"#dddddd","domain":false,"ticks":true,"tickSize":4,"tickColor":"#555555","labelPadding":4,"labelFontSize":10,"labelColor":"#444444","title":null,"orient":"left"}},
  "y2":{"field":"hi"}}},
{"data":{"values":[{"lo":30,"hi":70}]},"mark":{"type":"rect","fill":"#e8e0f0","opacity":0.3},
 "encoding":{"y":{"field":"lo","type":"quantitative"},"y2":{"field":"hi"}}},
{"data":{"values":[{"v":70},{"v":30}]},"mark":{"type":"rule","stroke":"#444444","strokeWidth":1.2,"strokeDash":[8,5]},
 "encoding":{"y":{"field":"v","type":"quantitative"}}},
{"data":{"name":"r"},"mark":{"type":"line","stroke":"#8e24aa","strokeWidth":1.8},
 "encoding":{"x":{"field":"i","type":"quantitative","scale":{"domain":[1,290],"range":[0,1700],"nice":false,"zero":false},"axis":null},"y":{"field":"r","type":"quantitative"}}},
{"data":{"name":"rs"},"mark":{"type":"line","stroke":"#42a5f5","strokeWidth":3},
 "encoding":{"x":{"field":"i","type":"quantitative"},"y":{"field":"r","type":"quantitative"}}},
{"data":{"values":[{"t":"RSI @tbsignalbot"}]},"mark":{"type":"text","fontSize":26.8,"fontWeight":"bold","font":"DejaVu Sans","fill":"#3f3f3f","align":"center","baseline":"alphabetic"},
 "encoding":{"x":{"datum":138.4,"type":"quantitative"},"y":{"datum":92.86,"type":"quantitative"},"text":{"field":"t"}}},
{"data":{"values":[{"s":"b"}]},"mark":{"type":"rect","fill":null,"fillOpacity":0,"stroke":"#d2d2d2","strokeWidth":1},
 "encoding":{"y":{"datum":10,"type":"quantitative"},"y2":{"datum":90}}}
]
}
],
"resolve":{"scale":{"x":"independent","y":"independent","color":"independent"},"axis":{"x":"independent","y":"independent"},"legend":{"color":"independent"}}
}
